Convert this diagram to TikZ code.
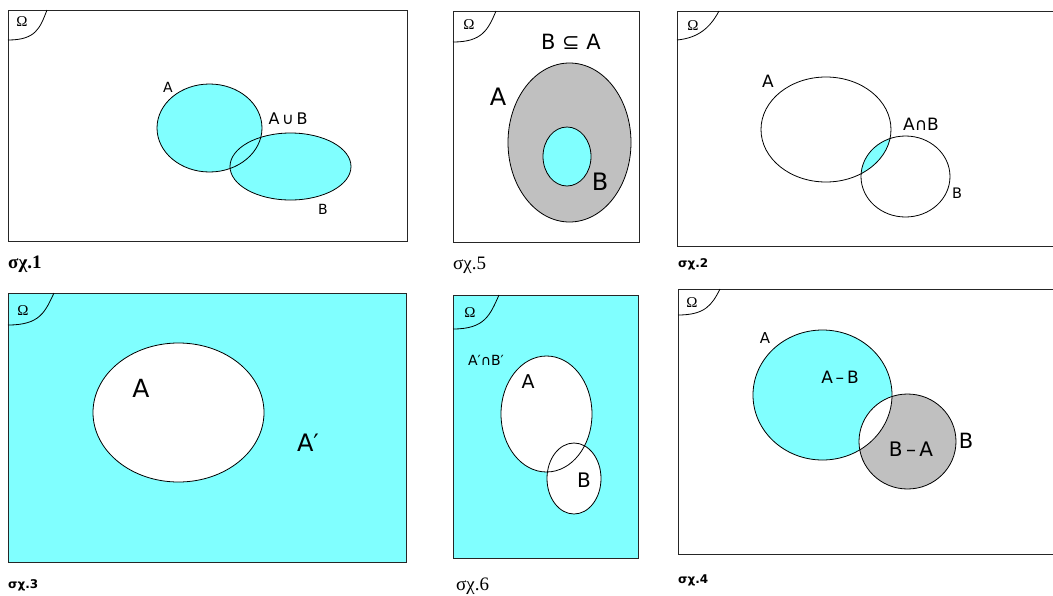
\documentclass[tikz,border=0pt]{standalone}
\usepackage{fontspec}
\setmainfont{DejaVu Sans}
\newfontfamily\serifgr{Liberation Serif}
\newfontfamily\sansgr{DejaVu Sans}
\definecolor{vcyan}{HTML}{80FFFF}
\definecolor{vgray}{HTML}{C0C0C0}
\begin{document}
\begin{tikzpicture}[x=1pt,y=-1pt,
  frame/.style={draw=black!85, line width=1pt},
  outl/.style={draw=black, line width=0.8pt},
  lbl/.style={font=\fontsize{#1}{#1}\selectfont, inner sep=0pt, text=black},
  omg/.style={font=\serifgr\fontsize{15}{15}\selectfont, inner sep=0pt},
  capbig/.style={font=\serifgr\fontsize{19}{19}\selectfont, inner sep=0pt, anchor=base west},
  capsmall/.style={font=\sansgr\bfseries\fontsize{12}{12}\selectfont, inner sep=0pt, anchor=base west}]
\useasboundingbox (0,0) rectangle (1053,595);
\clip (0,0) rectangle (1053,595);
\fill[white] (0,0) rectangle (1053,595);

% ---------- Panel 1 (sigma chi 1): union ----------
\fill[vcyan] (209.5,128) ellipse [x radius=52.5, y radius=44];
\fill[vcyan] (290.5,166.5) ellipse [x radius=60.5, y radius=33.5];
\draw[outl] (209.5,128) ellipse [x radius=52.5, y radius=44];
\draw[outl] (290.5,166.5) ellipse [x radius=60.5, y radius=33.5];
\draw[frame] (8,10) rectangle (407,241);
\draw[outl] (8,40) .. controls (36,40) and (40,28) .. (47,10);
\node[omg] (om1) at (22,22) {Ω};
\node[lbl=14] (a1) at (168,87) {A};
\node[lbl=16] (ab1) at (288,119) {A\,∪\,B};
\node[lbl=14] (b1) at (323,209) {B};
\node[capbig, font=\serifgr\bfseries\fontsize{19}{19}\selectfont] (c1) at (8,268) {σχ.1};

% ---------- Panel 5 (sigma chi 5): subset ----------
\draw[frame] (453,11) rectangle (639,242);
\fill[vgray] (569.5,142.5) ellipse [x radius=61.5, y radius=79.5];
\draw[outl] (569.5,142.5) ellipse [x radius=61.5, y radius=79.5];
\fill[vcyan] (567,156.5) ellipse [x radius=24, y radius=29.5];
\draw[outl] (567,156.5) ellipse [x radius=24, y radius=29.5];
\draw[outl] (453,42) .. controls (482,42) and (488,30) .. (496,11);
\node[omg] (om5) at (469,25) {Ω};
\node[lbl=21] (bsa5) at (571,42) {B ⊆ A};
\node[lbl=24] (a5) at (498,97) {A};
\node[lbl=24] (b5) at (600,182) {B};
\node[capbig] (c5) at (453,269) {σχ.5};

% ---------- Panel 2 (sigma chi 2): intersection ----------
\draw[frame] (677,11) rectangle (1060,246);
\begin{scope}
  \clip (826,129.5) ellipse [x radius=65, y radius=52.5];
  \fill[vcyan] (905.5,176.5) ellipse [x radius=44.5, y radius=40.5];
\end{scope}
\draw[outl] (826,129.5) ellipse [x radius=65, y radius=52.5];
\draw[outl] (905.5,176.5) ellipse [x radius=44.5, y radius=40.5];
\draw[outl] (677,40) .. controls (698,38) and (710,28) .. (719,11);
\node[omg] (om2) at (693,26) {Ω};
\node[lbl=17] (a2) at (768,81) {A};
\node[lbl=17] (ab2) at (921,124) {A∩B};
\node[lbl=14.5] (b2) at (957,193) {B};
\node[capsmall] (c2) at (678,267) {σχ.2};

% ---------- Panel 3 (sigma chi 3): complement ----------
\fill[vcyan] (8,293) rectangle (406,562);
\fill[white] (178.5,412.5) ellipse [x radius=85.5, y radius=69.5];
\draw[outl] (178.5,412.5) ellipse [x radius=85.5, y radius=69.5];
\draw[frame] (8,293) rectangle (406,562);
\draw[outl] (8,325) .. controls (40,325) and (45,312) .. (54,293);
\node[omg] (om3) at (23,311) {Ω};
\node[lbl=25] (a3) at (141,388) {A};
\node[lbl=24] (ac3) at (308,443) {A′};
\node[capsmall] (c3) at (8,588) {σχ.3};

% ---------- Panel 6 (sigma chi 6): A' cap B' ----------
\fill[vcyan] (453,295) rectangle (638,558);
\fill[white] (546.5,414) ellipse [x radius=45.5, y radius=58];
\fill[white] (574,478.5) ellipse [x radius=27, y radius=35.5];
\draw[outl] (546.5,414) ellipse [x radius=45.5, y radius=58];
\draw[outl] (574,478.5) ellipse [x radius=27, y radius=35.5];
\draw[frame] (453,295) rectangle (638,558);
\draw[outl] (453,329) .. controls (485,329) and (490,315) .. (499,295);
\node[omg] (om6) at (470,313) {Ω};
\node[lbl=14] (abc6) at (486,360) {A′∩B′};
\node[lbl=19] (a6) at (528,382) {A};
\node[lbl=20] (b6) at (584,480) {B};
\node[capbig] (c6) at (456,590) {σχ.6};

% ---------- Panel 4 (sigma chi 4): differences ----------
\draw[frame] (678,289) rectangle (1060,554);
\fill[vcyan] (822.5,395) ellipse [x radius=69.5, y radius=65];
\fill[vgray] (907.5,441.5) ellipse [x radius=48.5, y radius=47.5];
\begin{scope}
  \clip (822.5,395) ellipse [x radius=69.5, y radius=65];
  \fill[white] (907.5,441.5) ellipse [x radius=48.5, y radius=47.5];
\end{scope}
\draw[outl] (822.5,395) ellipse [x radius=69.5, y radius=65];
\draw[outl] (907.5,441.5) ellipse [x radius=48.5, y radius=47.5];
\draw[outl] (678,315) .. controls (705,315) and (712,305) .. (720,289);
\node[omg] (om4) at (692,303) {Ω};
\node[lbl=15] (a4) at (765,338) {A};
\node[lbl=17] (amb4) at (840,377) {A\,–\,B};
\node[lbl=20] (bma4) at (911,449) {B\,–\,A};
\node[lbl=21] (b4) at (966,441) {B};
\node[capsmall] (c4) at (678,583) {σχ.4};
\end{tikzpicture}
\end{document}
